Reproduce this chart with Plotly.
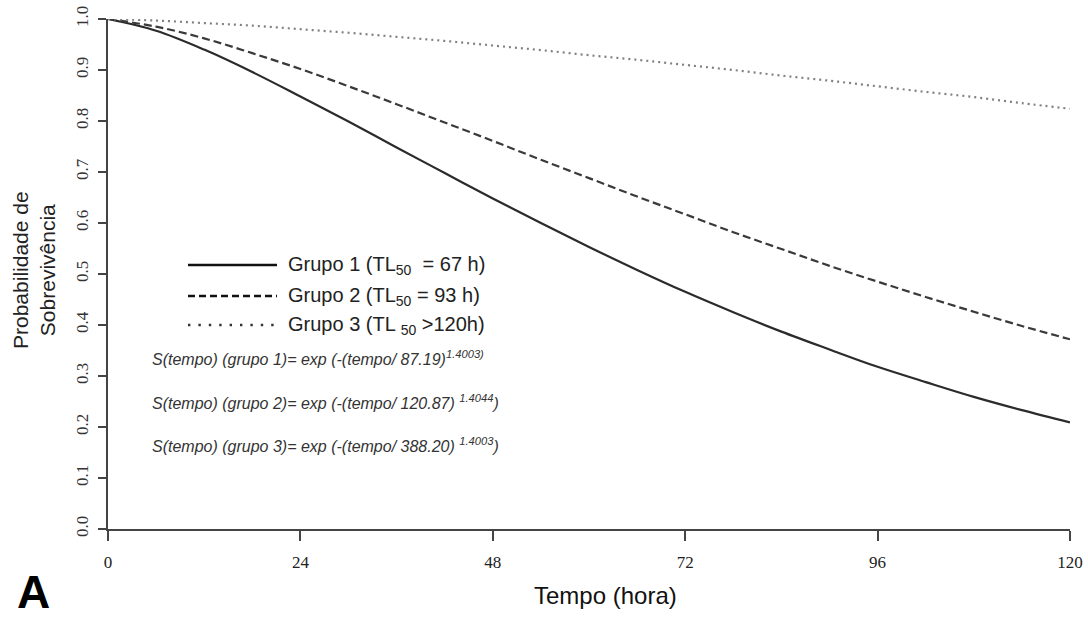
import plotly.graph_objects as go

tempo = [0, 6, 12, 18, 24, 30, 36, 42, 48, 54, 60, 66, 72, 78, 84, 90, 96, 102, 108, 114, 120]
grupo1 = [1.0, 0.977, 0.940, 0.896, 0.848, 0.799, 0.748, 0.698, 0.648, 0.600, 0.553, 0.508,
          0.465, 0.425, 0.387, 0.352, 0.318, 0.288, 0.259, 0.233, 0.209]
grupo2 = [1.0, 0.985, 0.962, 0.933, 0.902, 0.868, 0.833, 0.797, 0.761, 0.724, 0.688, 0.652,
          0.617, 0.582, 0.549, 0.516, 0.485, 0.455, 0.426, 0.398, 0.372]
grupo3 = [1.0, 0.997, 0.992, 0.987, 0.980, 0.973, 0.965, 0.957, 0.948, 0.939, 0.929, 0.920,
          0.910, 0.900, 0.889, 0.879, 0.868, 0.857, 0.847, 0.835, 0.824]

x_ticks = [0, 24, 48, 72, 96, 120]
y_ticks = [0.0, 0.1, 0.2, 0.3, 0.4, 0.5, 0.6, 0.7, 0.8, 0.9, 1.0]
y_ticklabels = ["0.0", "0.1", "0.2", "0.3", "0.4", "0.5", "0.6", "0.7", "0.8", "0.9", "1.0"]

legend_labels = ["Grupo 1 (TL<sub>50</sub>  = 67 h)",
                 "Grupo 2 (TL<sub>50</sub> = 93 h)",
                 "Grupo 3 (TL <sub>50</sub> >120h)"]
equations = ["S(tempo) (grupo 1)= exp (-(tempo/ 87.19)<sup>1.4003)</sup>",
             "S(tempo) (grupo 2)= exp (-(tempo/ 120.87) <sup>1.4044</sup>)",
             "S(tempo) (grupo 3)= exp (-(tempo/ 388.20) <sup>1.4003</sup>)"]

styles = [dict(color="#2b2b2b", width=2.2, dash="solid"),
          dict(color="#3a3a3a", width=2.2, dash="8px,4px"),
          dict(color="#808080", width=2.2, dash="2px,4px")]

fig = go.Figure()
for name, ys, st in zip(["Grupo 1", "Grupo 2", "Grupo 3"], [grupo1, grupo2, grupo3], styles):
    fig.add_trace(go.Scatter(x=tempo, y=ys, mode="lines", name=name, line=dict(shape="spline", **st),
                             cliponaxis=False, showlegend=False))

W, H = 1088, 617
L, R, T, B = 108, 18, 19, 88
pw, ph = W - L - R, H - T - B


def px(xp):
    return (xp - L) / pw


def py(yp):
    return (H - B - yp) / ph


shapes = []
annotations = []
leg_y = [265, 296, 325]
for i, (lab, st) in enumerate(zip(legend_labels, styles)):
    shapes.append(dict(type="line", xref="paper", yref="paper", x0=px(188), x1=px(277),
                       y0=py(leg_y[i]), y1=py(leg_y[i]),
                       line=dict(color="#111111" if i < 2 else "#333333", width=2.6 if i < 2 else 2.4,
                                 dash="solid" if i == 0 else ("7px,4px" if i == 1 else "2.4px,8px"))))
    annotations.append(dict(text=lab, xref="paper", yref="paper", x=px(286), y=py(leg_y[i]),
                            xanchor="left", yanchor="middle", showarrow=False,
                            font=dict(family="Liberation Sans, Arial", size=20, color="#222222")))

eq_y = [358, 402, 445]
for i, eq in enumerate(equations):
    annotations.append(dict(text="<i>" + eq + "</i>", xref="paper", yref="paper", x=px(150), y=py(eq_y[i]),
                            xanchor="left", yanchor="middle", showarrow=False,
                            font=dict(family="Liberation Sans, Arial", size=16, color="#333333")))

annotations.append(dict(text="Probabilidade de<br>Sobrevivência", xref="paper", yref="paper",
                        x=px(34), y=py(270), xanchor="center", yanchor="middle", textangle=-90,
                        showarrow=False, font=dict(family="Liberation Sans, Arial", size=21, color="#222222")))
annotations.append(dict(text="Tempo (hora)", xref="paper", yref="paper", x=px(605), y=py(595),
                        xanchor="center", yanchor="middle", showarrow=False,
                        font=dict(family="Liberation Sans Narrow, Liberation Sans, Arial", size=24, color="#111111")))
annotations.append(dict(text="<b>A</b>", xref="paper", yref="paper", x=px(33), y=py(592),
                        xanchor="center", yanchor="middle", showarrow=False,
                        font=dict(family="Liberation Sans, Arial", size=46, color="#000000")))

fig.update_layout(
    width=W, height=H,
    margin=dict(l=L, r=R, t=T, b=B, pad=0, autoexpand=False),
    paper_bgcolor="white", plot_bgcolor="white",
    shapes=shapes, annotations=annotations,
    showlegend=False,
    xaxis=dict(range=[0, 120], tickvals=x_ticks, ticktext=[str(v) for v in x_ticks], automargin=False,
               showgrid=False, zeroline=False, showline=True, linecolor="#444444", linewidth=2,
               ticks="outside", ticklen=10, tickwidth=1.5, tickcolor="#444444", ticklabelstandoff=7,
               tickfont=dict(family="Liberation Serif, Times New Roman", size=17, color="#222222")),
    yaxis=dict(range=[0, 1], tickvals=y_ticks, ticktext=y_ticklabels, tickangle=-90, automargin=False,
               showgrid=False, zeroline=False, showline=True, linecolor="#444444", linewidth=2,
               ticks="outside", ticklen=8, tickwidth=1.5, tickcolor="#444444", ticklabelstandoff=3,
               tickfont=dict(family="Liberation Serif, Times New Roman", size=17, color="#333333")),
)

fig.write_html("out.html", config={"displayModeBar": False})
with open("out.html", "r", encoding="utf-8") as f:
    html = f.read()
html = html.replace("<head>", "<head><style>html,body{margin:0;padding:0;overflow:hidden;}</style>", 1)
with open("out.html", "w", encoding="utf-8") as f:
    f.write(html)
